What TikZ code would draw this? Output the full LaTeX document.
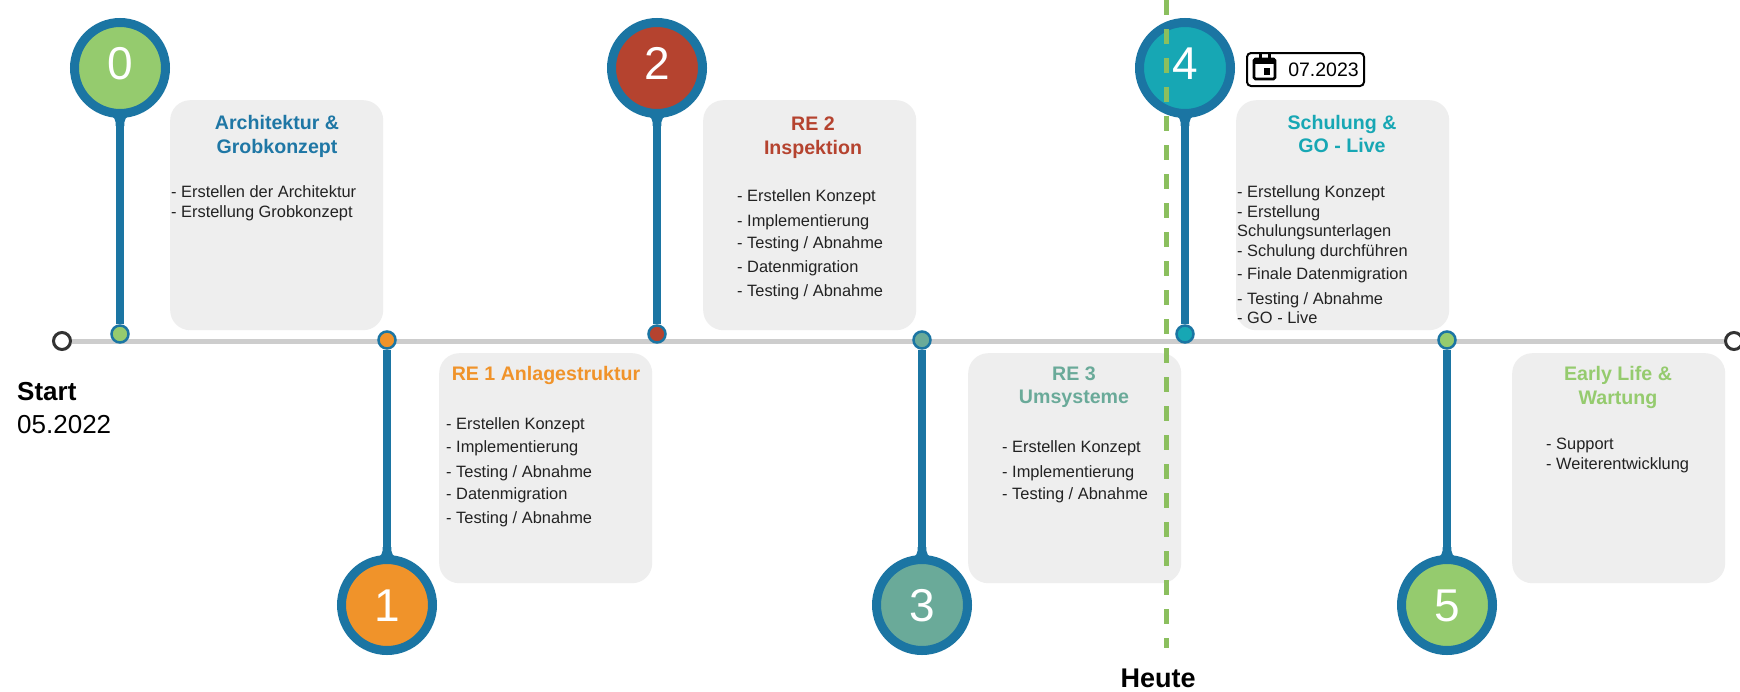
\documentclass[tikz,border=0pt]{standalone}
\usepackage{fontspec}
\setmainfont{Liberation Sans}
\definecolor{ring}{RGB}{27,117,163}
\definecolor{cgreen}{RGB}{149,203,110}
\definecolor{corange}{RGB}{240,147,42}
\definecolor{cred}{RGB}{181,67,47}
\definecolor{cteal}{RGB}{106,170,153}
\definecolor{ccyan}{RGB}{23,167,180}
\definecolor{tblue}{RGB}{31,119,165}
\definecolor{boxgray}{RGB}{238,238,238}
\definecolor{linegray}{RGB}{205,205,205}
\definecolor{bodytext}{RGB}{34,34,34}
\definecolor{todaygreen}{RGB}{139,191,94}
\definecolor{endgray}{RGB}{51,51,51}
\newcommand{\flaredown}[2]{\fill[ring] ({#1-13},{#2+44}) .. controls ({#1-5},{#2+49}) and ({#1-4.25},{#2+52}) .. ({#1-4.25},{#2+58}) -- ({#1+4.25},{#2+58}) .. controls ({#1+4.25},{#2+52}) and ({#1+5},{#2+49}) .. ({#1+13},{#2+44}) -- cycle;}
\newcommand{\flareup}[2]{\fill[ring] ({#1-13},{#2-44}) .. controls ({#1-5},{#2-49}) and ({#1-4.25},{#2-52}) .. ({#1-4.25},{#2-58}) -- ({#1+4.25},{#2-58}) .. controls ({#1+4.25},{#2-52}) and ({#1+5},{#2-49}) .. ({#1+13},{#2-44}) -- cycle;}
\tikzset{
  big/.style={circle, draw=ring, line width=9pt, minimum size=91pt, inner sep=0pt},
  dotn/.style={circle, draw=ring, line width=2.5pt, minimum size=17pt, inner sep=0pt},
  endc/.style={circle, draw=endgray, fill=white, line width=3pt, minimum size=17pt, inner sep=0pt},
  stemline/.style={draw=ring, line width=8.5pt},
  timeline/.style={draw=linegray, line width=5pt},
  todayline/.style={draw=todaygreen, line width=5pt, dash pattern=on 15pt off 14pt},
  phasebox/.style={rounded corners=20pt, fill=boxgray, inner sep=0pt, anchor=north west, minimum width=213pt, minimum height=230pt},
  ttl/.style={font=\fontsize{19.6}{24}\bfseries\selectfont, anchor=base, inner sep=0pt},
  body/.style={font=\fontsize{16.4}{20}\selectfont, text=bodytext, anchor=base west, inner sep=0pt},
  digit/.style={font=\fontsize{46}{46}\selectfont, text=white, inner sep=0pt},
  big label/.style={font=\fontsize{26}{26}\selectfont, anchor=base west, inner sep=0pt},
}
\begin{document}
\begin{tikzpicture}[x=1pt,y=-1pt]
\useasboundingbox[fill=white] (0,0) rectangle (1740,691);
% boxes
\node[phasebox] (B0) at (170,100) {};
\node[phasebox] (B2) at (703,100) {};
\node[phasebox] (B4) at (1236,100) {};
\node[phasebox] (B1) at (439,353) {};
\node[phasebox] (B3) at (968,353) {};
\node[phasebox] (B5) at (1512,353) {};
% timeline
\node[endc] (S) at (62,341) {};
\node[endc] (E) at (1734,341) {};
\draw[timeline] (S) -- (E);
% dots
\node[dotn, fill=cgreen] (D0) at (120,334) {};
\node[dotn, fill=corange] (D1) at (387,340) {};
\node[dotn, fill=cred] (D2) at (657,334) {};
\node[dotn, fill=cteal] (D3) at (922,340) {};
\node[dotn, fill=ccyan] (D4) at (1185,334) {};
\node[dotn, fill=cgreen] (D5) at (1447,340) {};
% big circles
\node[big, fill=cgreen] (C0) at (120,68) {};
\node[big, fill=cred] (C2) at (657,68) {};
\node[big, fill=ccyan] (C4) at (1185,68) {};
\node[big, fill=corange] (C1) at (387,605) {};
\node[big, fill=cteal] (C3) at (922,605) {};
\node[big, fill=cgreen] (C5) at (1447,605) {};
% stems
\draw[stemline] (C0) -- (D0);
\draw[stemline] (C2) -- (D2);
\draw[stemline] (C4) -- (D4);
\draw[stemline] (C1) -- (D1);
\draw[stemline] (C3) -- (D3);
\draw[stemline] (C5) -- (D5);
\flaredown{120}{68}
\flaredown{657}{68}
\flaredown{1185}{68}
\flareup{387}{605}
\flareup{922}{605}
\flareup{1447}{605}
% digits
\node[digit] (N0) at (120,63.5) {0};
\node[digit] (N2) at (657,63.5) {2};
\node[digit] (N4) at (1185,63.5) {4};
\node[digit] (N1) at (387,606) {1};
\node[digit] (N3) at (922,606) {3};
\node[digit] (N5) at (1447,606) {5};
% today line
\coordinate (dtop) at (1166,0);
\coordinate (dbot) at (1166,648);
\draw[todayline] (dtop) -- (dbot);
\node[font=\fontsize{27}{27}\bfseries\selectfont, anchor=base, inner sep=0pt] (heute) at (1158,687) {Heute};
% start
\node[big label, font=\fontsize{26}{26}\bfseries\selectfont] (start) at (17,400) {Start};
\node[big label] (startdate) at (17,433) {05.2022};
% calendar
\node[draw=black, line width=2pt, rounded corners=4pt, minimum width=117pt, minimum height=33pt, inner sep=0pt] (cal) at (1305.5,69.5) {};
\draw[line width=2.6pt, rounded corners=1.5pt] (1254,59) rectangle (1275,79);
\fill (1254,58) rectangle (1275,64);
\fill (1258.5,53.5) rectangle (1261.5,59);
\fill (1267.5,53.5) rectangle (1270.5,59);
\fill (1263.5,68) rectangle (1270,74.5);
\node[font=\fontsize{19.5}{20}\selectfont, anchor=base, inner sep=0pt] (caltext) at (1323.5,76.5) {07.2023};
% box 0
\node[ttl, text=tblue] (T0a) at (277,129) {Architektur \&};
\node[ttl, text=tblue] (T0b) at (277,153) {Grobkonzept};
\node[body] (L0a) at (171,197) {- Erstellen der Architektur};
\node[body] (L0b) at (171,217) {- Erstellung Grobkonzept};
% box 2
\node[ttl, text=cred] (T2a) at (813,130) {RE 2};
\node[ttl, text=cred] (T2b) at (813,154) {Inspektion};
\node[body] (L2a) at (737,201) {- Erstellen Konzept};
\node[body] (L2b) at (737,226) {- Implementierung};
\node[body] (L2c) at (737,248) {- Testing / Abnahme};
\node[body] (L2d) at (737,272) {- Datenmigration};
\node[body] (L2e) at (737,296) {- Testing / Abnahme};
% box 4
\node[ttl, text=ccyan] (T4a) at (1342,129) {Schulung \&};
\node[ttl, text=ccyan] (T4b) at (1342,152) {GO - Live};
\node[body] (L4a) at (1237,197) {- Erstellung Konzept};
\node[body] (L4b) at (1237,217) {- Erstellung};
\node[body] (L4c) at (1237,236) {Schulungsunterlagen};
\node[body] (L4d) at (1237,256) {- Schulung durchführen};
\node[body] (L4e) at (1237,279) {- Finale Datenmigration};
\node[body] (L4f) at (1237,304) {- Testing / Abnahme};
\node[body] (L4g) at (1237,323) {- GO - Live};
% box 1
\node[ttl, text=corange] (T1a) at (546,380) {RE 1 Anlagestruktur};
\node[body] (L1a) at (446,429) {- Erstellen Konzept};
\node[body] (L1b) at (446,452) {- Implementierung};
\node[body] (L1c) at (446,477) {- Testing / Abnahme};
\node[body] (L1d) at (446,499) {- Datenmigration};
\node[body] (L1e) at (446,523) {- Testing / Abnahme};
% box 3
\node[ttl, text=cteal] (T3a) at (1074,380) {RE 3};
\node[ttl, text=cteal] (T3b) at (1074,403) {Umsysteme};
\node[body] (L3a) at (1002,452) {- Erstellen Konzept};
\node[body] (L3b) at (1002,477) {- Implementierung};
\node[body] (L3c) at (1002,499) {- Testing / Abnahme};
% box 5
\node[ttl, text=cgreen] (T5a) at (1618,380) {Early Life \&};
\node[ttl, text=cgreen] (T5b) at (1618,404) {Wartung};
\node[body] (L5a) at (1546,449) {- Support};
\node[body] (L5b) at (1546,469) {- Weiterentwicklung};
\end{tikzpicture}
\end{document}
